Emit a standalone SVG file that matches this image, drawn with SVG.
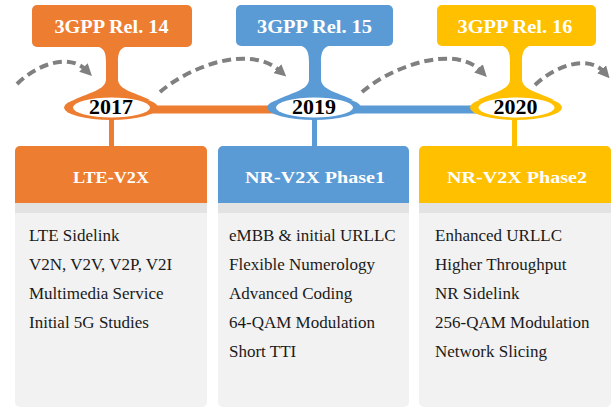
<svg xmlns="http://www.w3.org/2000/svg" width="615" height="409" viewBox="0 0 615 409">
<style>
.hdr{font-family:"Liberation Serif","DejaVu Serif",serif;font-weight:bold;fill:#fff;text-anchor:middle}
.yr{font-family:"Liberation Serif","DejaVu Serif",serif;font-weight:bold;font-size:20px;fill:#000;text-anchor:middle}
.body{font-family:"Liberation Serif","DejaVu Serif",serif;font-size:17px;fill:#1a1a1a}
.band{fill:#E3E3E3}
.panel{fill:#F2F2F2}
.arc{fill:none;stroke:#808080;stroke-width:4;stroke-dasharray:9 5;marker-end:url(#ah)}
</style>
<defs>
<marker id="ah" viewBox="0 0 10 10" markerUnits="userSpaceOnUse" markerWidth="12" markerHeight="12" refX="3" refY="5" orient="auto">
<path d="M0,0 L10,5 L0,10 Z" fill="#808080"/>
</marker>
</defs>

<g id="connectors">
<rect x="150" y="105.5" width="170" height="8" fill="#ED7D31"/>
<rect x="310" y="105.5" width="170" height="8" fill="#5B9BD5"/>
<rect x="109" y="115" width="5" height="34" fill="#ED7D31"/>
<rect x="312" y="115" width="5" height="34" fill="#5B9BD5"/>
<rect x="512" y="115" width="5" height="34" fill="#FFC000"/>
<path class="arc" d="M17,84 C35,66 68,52 86,70"/>
<path class="arc" d="M160,92 C190,66 250,44 280,71"/>
<path class="arc" d="M362,92 C392,66 455,44 481,71"/>
<path class="arc" d="M535,85 C555,66 588,54 604,72"/>
</g>

<g id="rel14">
<rect x="32" y="5" width="160" height="42" rx="5" fill="#ED7D31"/>
<path d="M92,46 C104,46 106,52 106,62 L106,79 C106,90 90,92 74,100 L150,100 C134,92 118,90 118,79 L118,62 C118,52 120,46 132,46 Z" fill="#ED7D31"/>
<text class="hdr" x="111.5" y="33" font-size="19.5" textLength="114" lengthAdjust="spacingAndGlyphs">3GPP Rel. 14</text>
</g>
<g id="y2017">
<ellipse cx="111" cy="107.5" rx="47" ry="12.5" fill="#ED7D31"/>
<ellipse cx="111.5" cy="107.5" rx="38.5" ry="10" fill="#fff"/>
<text class="yr" x="111" y="114" textLength="44" lengthAdjust="spacingAndGlyphs">2017</text>
</g>

<g id="rel15">
<rect x="236" y="5" width="157" height="41" rx="5" fill="#5B9BD5"/>
<path d="M295,45 C307,45 309,52 309,62 L309,79 C309,90 293,92 277,100 L353,100 C337,92 321,90 321,79 L321,62 C321,52 323,45 335,45 Z" fill="#5B9BD5"/>
<text class="hdr" x="314.5" y="33" font-size="19.5" textLength="115" lengthAdjust="spacingAndGlyphs">3GPP Rel. 15</text>
</g>
<g id="y2019">
<ellipse cx="314" cy="107.5" rx="47" ry="12.5" fill="#5B9BD5"/>
<ellipse cx="314.5" cy="107.5" rx="38.5" ry="10" fill="#fff"/>
<text class="yr" x="314" y="114" textLength="44" lengthAdjust="spacingAndGlyphs">2019</text>
</g>

<g id="rel16">
<rect x="437" y="5" width="159" height="41" rx="5" fill="#FFC000"/>
<path d="M496,45 C508,45 510,52 510,62 L510,79 C510,90 494,92 478,100 L554,100 C538,92 522,90 522,79 L522,62 C522,52 524,45 536,45 Z" fill="#FFC000"/>
<text class="hdr" x="515" y="33" font-size="19.5" textLength="115" lengthAdjust="spacingAndGlyphs">3GPP Rel. 16</text>
</g>
<g id="y2020">
<ellipse cx="516" cy="107.5" rx="46" ry="12.5" fill="#FFC000"/>
<ellipse cx="516.5" cy="107.5" rx="38" ry="10" fill="#fff"/>
<text class="yr" x="515.5" y="114" textLength="44" lengthAdjust="spacingAndGlyphs">2020</text>
</g>

<g id="lte-v2x">
<rect class="panel" x="15" y="146" width="192" height="261" rx="5"/>
<rect x="15" y="146" width="192" height="57" rx="5" fill="#ED7D31"/>
<rect x="15" y="196" width="192" height="7" fill="#ED7D31"/>
<rect class="band" x="15" y="203" width="192" height="10"/>
<text class="hdr" x="111" y="183" font-size="17.5" textLength="76" lengthAdjust="spacingAndGlyphs">LTE-V2X</text>
<text class="body" x="29" y="241">LTE Sidelink</text>
<text class="body" x="29" y="270">V2N, V2V, V2P, V2I</text>
<text class="body" x="29" y="299">Multimedia Service</text>
<text class="body" x="29" y="328">Initial 5G Studies</text>
</g>

<g id="nr-v2x-phase1">
<rect class="panel" x="218" y="146" width="191" height="261" rx="5"/>
<rect x="218" y="146" width="191" height="57" rx="5" fill="#5B9BD5"/>
<rect x="218" y="196" width="191" height="7" fill="#5B9BD5"/>
<rect class="band" x="218" y="203" width="191" height="10"/>
<text class="hdr" x="315" y="183" font-size="17.5" textLength="140" lengthAdjust="spacingAndGlyphs">NR-V2X Phase1</text>
<text class="body" x="229" y="241">eMBB &amp; initial URLLC</text>
<text class="body" x="229" y="270">Flexible Numerology</text>
<text class="body" x="229" y="299">Advanced Coding</text>
<text class="body" x="229" y="328">64-QAM Modulation</text>
<text class="body" x="229" y="357">Short TTI</text>
</g>

<g id="nr-v2x-phase2">
<rect class="panel" x="419" y="146" width="192" height="261" rx="5"/>
<rect x="419" y="146" width="192" height="57" rx="5" fill="#FFC000"/>
<rect x="419" y="196" width="192" height="7" fill="#FFC000"/>
<rect class="band" x="419" y="203" width="192" height="10"/>
<text class="hdr" x="517" y="183" font-size="17.5" textLength="140" lengthAdjust="spacingAndGlyphs">NR-V2X Phase2</text>
<text class="body" x="435" y="241">Enhanced URLLC</text>
<text class="body" x="435" y="270">Higher Throughput</text>
<text class="body" x="435" y="299">NR Sidelink</text>
<text class="body" x="435" y="328">256-QAM Modulation</text>
<text class="body" x="435" y="357">Network Slicing</text>
</g>
</svg>
